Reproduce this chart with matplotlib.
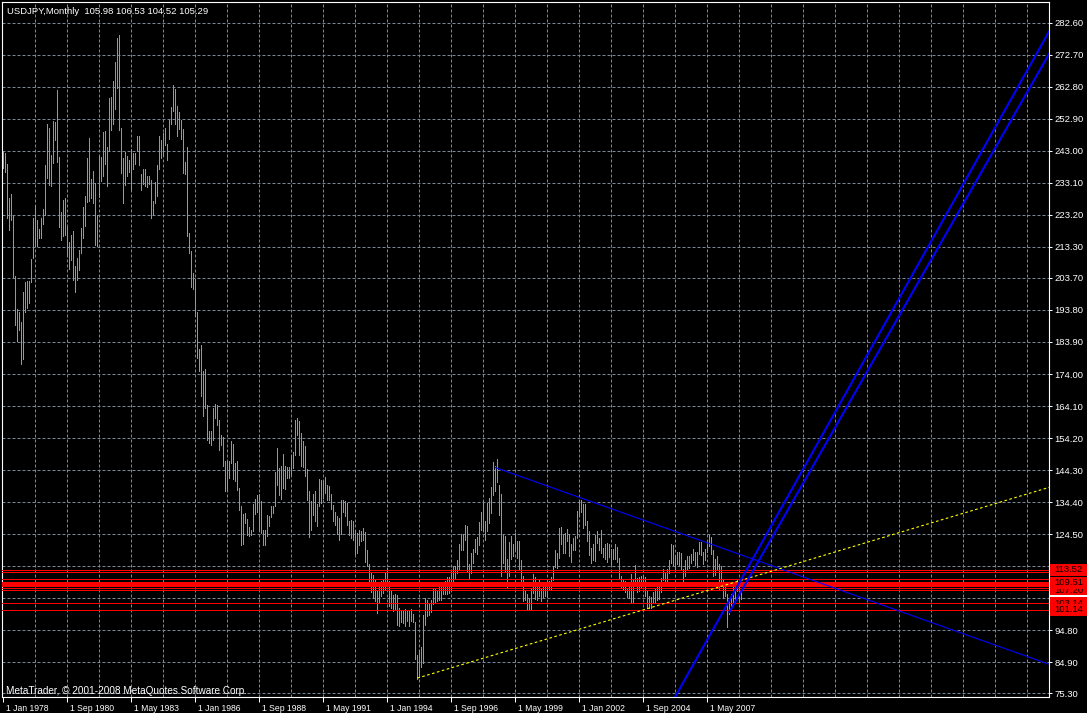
import matplotlib.pyplot as plt
from matplotlib import transforms
from matplotlib.patches import Rectangle

plt.rcParams['font.family'] = ['Liberation Sans', 'DejaVu Sans']

title = 'USDJPY,Monthly  105.98 106.53 104.52 105.29'
credit = 'MetaTrader, \u00a9 2001-2008 MetaQuotes Software Corp.'

# monthly bars, Jan 1978 .. Oct 2008 (one row per year)
highs = [
    242.9, 242.2, 238.8, 228.3, 229.5, 223.0, 204.2, 194.0, 193.1, 190.0, 199.5, 202.4,
    202.7, 202.7, 209.7, 222.1, 225.9, 221.6, 218.7, 222.1, 224.9, 238.5, 251.2, 250.0,
    241.6, 252.3, 252.0, 261.8, 241.0, 224.1, 227.8, 228.3, 219.4, 214.8, 216.9, 218.2,
    207.3, 210.0, 212.3, 219.0, 225.5, 229.0, 240.8, 246.9, 234.2, 236.8, 232.9, 223.3,
    241.3, 241.0, 248.8, 249.1, 244.1, 259.2, 259.5, 264.6, 270.5, 277.8, 278.8, 250.0,
    240.7, 242.6, 241.3, 240.1, 243.5, 242.2, 242.2, 247.6, 247.5, 235.7, 237.3, 237.3,
    235.2, 235.1, 234.0, 227.5, 233.3, 238.5, 247.5, 246.4, 248.4, 250.0, 245.0, 252.4,
    256.4, 263.4, 262.2, 256.9, 255.1, 252.4, 249.6, 239.4, 244.1, 217.5, 211.9, 205.1,
    203.5, 193.3, 181.6, 183.1, 174.9, 175.4, 164.3, 156.3, 156.5, 163.6, 164.6, 164.3,
    159.7, 155.0, 154.4, 147.2, 147.0, 147.0, 153.3, 152.5, 146.6, 147.0, 138.9, 133.3,
    130.8, 131.1, 129.3, 126.8, 125.9, 133.9, 135.5, 136.7, 137.0, 134.6, 125.7, 125.9,
    130.5, 130.0, 133.3, 133.1, 143.6, 151.0, 145.1, 145.7, 149.4, 145.5, 145.4, 145.4,
    149.1, 149.8, 159.7, 160.5, 159.4, 155.9, 153.2, 151.9, 144.5, 137.9, 134.6, 137.0,
    137.7, 133.9, 141.7, 141.1, 140.8, 142.3, 139.8, 139.5, 136.9, 133.6, 131.4, 130.2,
    129.5, 135.2, 135.2, 134.9, 134.1, 128.5, 128.8, 128.5, 125.7, 124.9, 125.7, 125.4,
    126.4, 125.3, 119.5, 115.4, 112.7, 112.0, 110.7, 107.3, 109.2, 110.1, 110.7, 112.6,
    114.1, 109.9, 106.8, 105.8, 106.1, 105.8, 101.7, 100.9, 100.6, 101.4, 101.1, 101.1,
    101.4, 99.9, 97.2, 87.2, 88.8, 89.6, 99.6, 104.8, 104.2, 103.0, 104.2, 107.5,
    107.6, 107.3, 109.4, 109.4, 109.2, 109.9, 111.3, 111.4, 112.5, 114.5, 114.8, 116.4,
    121.6, 124.5, 124.5, 127.2, 127.0, 115.4, 118.6, 120.0, 122.9, 123.5, 128.2, 131.3,
    134.7, 128.6, 134.2, 135.6, 139.0, 146.7, 145.5, 147.6, 139.8, 136.8, 124.3, 124.0,
    116.8, 122.1, 124.0, 121.6, 124.8, 122.5, 122.3, 116.4, 111.5, 107.0, 106.0, 104.4,
    107.4, 112.2, 111.2, 108.5, 110.4, 107.7, 109.5, 109.4, 108.4, 109.9, 111.3, 114.8,
    119.5, 118.6, 126.4, 126.8, 124.3, 125.0, 126.0, 124.6, 121.6, 123.4, 124.0, 131.8,
    135.0, 135.1, 133.9, 133.8, 128.5, 125.5, 120.2, 121.6, 124.3, 125.6, 123.2, 125.7,
    120.3, 121.4, 121.7, 121.6, 120.0, 120.0, 121.4, 120.6, 117.1, 111.6, 110.2, 110.0,
    107.8, 109.5, 112.1, 110.5, 114.9, 111.0, 111.4, 111.5, 111.6, 111.3, 106.9, 105.4,
    105.2, 106.7, 107.5, 108.7, 108.5, 111.0, 113.7, 112.9, 113.6, 116.4, 121.4, 121.0,
    117.9, 119.1, 119.1, 118.7, 113.7, 116.5, 117.8, 117.8, 118.3, 119.9, 118.9, 119.0,
    122.2, 122.2, 119.0, 120.0, 122.0, 124.1, 123.7, 119.6, 116.8, 117.9, 115.2, 114.7,
    110.2, 108.6, 106.0, 104.7, 106.0, 108.6, 108.6, 110.7, 109.4, 106.53,
]
lows = [
    237.7, 236.4, 222.1, 218.5, 221.6, 203.9, 189.1, 184.1, 187.5, 177.2, 178.5, 193.3,
    194.3, 196.1, 202.4, 210.0, 213.5, 213.5, 215.9, 216.2, 220.3, 223.3, 234.5, 232.3,
    232.1, 239.3, 246.3, 239.6, 219.4, 215.4, 216.6, 216.9, 210.4, 206.6, 209.2, 203.0,
    199.2, 203.2, 206.1, 211.3, 215.9, 219.7, 227.1, 227.4, 228.3, 226.8, 214.0, 213.5,
    228.6, 233.6, 235.2, 238.8, 232.1, 242.9, 249.4, 251.2, 255.8, 262.5, 249.3, 236.0,
    226.8, 232.3, 235.1, 236.4, 230.9, 237.3, 238.8, 242.9, 238.6, 230.9, 232.6, 232.0,
    231.9, 232.6, 222.3, 223.3, 226.8, 228.9, 237.3, 240.7, 241.4, 244.8, 240.1, 246.6,
    251.2, 255.3, 251.2, 247.6, 249.6, 246.6, 236.0, 235.7, 216.6, 211.3, 200.8, 200.2,
    191.9, 178.8, 174.9, 167.1, 160.9, 163.6, 153.7, 152.8, 152.0, 153.7, 160.5, 158.1,
    150.6, 152.2, 145.5, 137.7, 138.3, 142.0, 146.6, 141.6, 140.8, 138.0, 131.9, 121.2,
    121.6, 128.1, 124.3, 123.8, 124.3, 125.4, 130.8, 131.5, 125.4, 124.9, 121.2, 121.2,
    123.8, 126.9, 129.8, 131.1, 133.1, 139.8, 136.7, 135.5, 138.9, 138.6, 142.0, 142.0,
    142.9, 145.1, 149.1, 155.3, 149.1, 145.5, 145.4, 142.6, 135.2, 123.7, 125.9, 130.5,
    128.5, 127.1, 133.1, 134.2, 135.7, 137.2, 135.2, 135.2, 132.4, 128.5, 127.4, 124.7,
    122.6, 124.7, 131.5, 130.0, 127.2, 124.3, 123.3, 122.8, 118.5, 118.7, 121.2, 122.3,
    122.8, 115.8, 114.7, 109.2, 106.5, 104.8, 103.9, 100.2, 103.3, 105.5, 106.4, 107.6,
    109.2, 102.2, 101.8, 100.6, 100.9, 96.5, 96.2, 97.2, 97.0, 96.2, 97.5, 96.0,
    97.8, 97.2, 85.9, 79.7, 80.3, 83.4, 84.8, 96.5, 99.1, 99.6, 100.3, 103.0,
    103.4, 103.7, 104.2, 104.0, 106.1, 106.1, 106.1, 106.3, 107.5, 110.0, 110.8, 112.6,
    113.8, 119.5, 119.6, 122.6, 112.8, 110.6, 112.5, 115.5, 119.0, 118.5, 121.3, 125.9,
    125.5, 122.8, 125.5, 127.8, 131.0, 136.5, 137.9, 140.7, 130.5, 111.5, 115.5, 112.9,
    108.3, 111.6, 116.9, 117.7, 119.5, 117.1, 113.8, 109.7, 103.7, 104.0, 101.3, 101.2,
    101.4, 106.3, 104.3, 104.0, 105.3, 103.9, 105.2, 105.3, 105.0, 107.3, 107.5, 110.3,
    114.5, 114.1, 117.1, 121.4, 118.6, 118.8, 122.5, 117.8, 115.8, 119.6, 119.6, 123.4,
    130.0, 131.5, 126.4, 127.3, 122.5, 118.2, 115.5, 116.6, 116.1, 121.7, 119.6, 118.8,
    117.4, 116.7, 115.9, 117.5, 115.2, 116.7, 116.9, 115.9, 110.9, 107.9, 107.5, 106.7,
    105.2, 104.7, 103.4, 103.6, 108.4, 106.7, 106.8, 108.0, 108.4, 105.4, 101.8, 101.8,
    101.7, 103.1, 103.6, 104.2, 104.6, 106.6, 110.2, 108.5, 108.6, 112.6, 115.6, 115.0,
    113.4, 115.4, 115.0, 113.3, 108.9, 111.6, 113.6, 114.0, 115.5, 116.5, 115.0, 114.5,
    118.5, 118.0, 115.2, 116.6, 118.9, 120.9, 118.3, 111.6, 112.0, 113.8, 107.2, 109.7,
    104.9, 105.4, 95.8, 99.8, 102.0, 103.6, 103.8, 106.9, 103.5, 104.52,
]

y_labels = ['282.60', '272.70', '262.80', '252.90', '243.00', '233.10', '223.20',
            '213.30', '203.70', '193.80', '183.90', '174.00', '164.10', '154.20',
            '144.30', '134.40', '124.50', '114.60', '104.70', '94.80', '84.90', '75.30']
date_months = ['1978-01', '1980-09', '1983-05', '1986-01', '1988-09', '1991-05',
               '1994-01', '1996-09', '1999-05', '2002-01', '2004-09', '2007-05']
date_labels = ['1 Jan 1978', '1 Sep 1980', '1 May 1983', '1 Jan 1986', '1 Sep 1988',
               '1 May 1991', '1 Jan 1994', '1 Sep 1996', '1 May 1999', '1 Jan 2002',
               '1 Sep 2004', '1 May 2007']

# horizontal levels and their price tags (tags in drawing order)
red_levels = [113.52, 112.9, 110.6, 109.8, 109.51, 109.2, 108.9, 108.6, 107.8,
              107.20, 103.14, 101.14]
red_tags = ['107.20', '103.14', '113.52', '109.51', '101.14']
bid = 105.29

# trend lines: two anchor points each, drawn as rays to the right edge
trend_down = [('1998-07', 145.1), ('2007-06', 121.6)]
trend_up = [('1995-04', 80.0), ('2004-01', 99.6)]
channel_a = [('2006-01', 74.3), ('2008-01', 100.7)]
channel_b = [('2008-04', 100.4), ('2010-04', 126.3)]


def bar_index(s):
    y, m = map(int, s.split('-'))
    return (y - 1978) * 12 + (m - 1)


W, H = 1087, 713
fig = plt.figure(figsize=(W / 100, H / 100), dpi=100, facecolor='black')
ax = fig.add_axes([2 / W, 1 - 697 / H, 1047 / W, 695 / H], facecolor='black')
x_min, x_max = -0.65, 522.85
ax.set_xlim(x_min, x_max)
ax.set_ylim(74.16, 289.0)

grid = dict(color='#778899', lw=0.72, ls=(0, (3, 2)), zorder=0)
for s in y_labels:
    ax.axhline(float(s), **grid)
for m in range(16, 523, 16):
    ax.axvline(m, **grid)

x = list(range(len(highs)))
ax.vlines(x, lows, highs, colors='#30e030', linewidth=0.5, antialiased=False, zorder=2)

for lv in red_levels:
    ax.axhline(lv, color='red', lw=0.6, antialiased=False, zorder=3)


def ray(pts, **kw):
    x0, p0 = bar_index(pts[0][0]), pts[0][1]
    x1, p1 = bar_index(pts[1][0]), pts[1][1]
    k = (p1 - p0) / (x1 - x0)
    ax.plot([x0, x_max], [p0, p0 + k * (x_max - x0)], **kw)


ray(trend_down, color='#0000ff', lw=0.8, zorder=4)
ray(trend_up, color='#ffff00', lw=0.8, ls=(0, (2.4, 2.2)), zorder=4)
ray(channel_a, color='#0000ff', lw=1.5, zorder=4)
ray(channel_b, color='#0000ff', lw=1.5, zorder=4)

for sp in ax.spines.values():
    sp.set_color('white')
    sp.set_linewidth(0.8)

ax.yaxis.tick_right()
ax.set_yticks([float(s) for s in y_labels], y_labels)
ax.tick_params(axis='y', colors='white', length=2.5, width=0.72, pad=1.2, labelsize=6.8)
ax.set_xticks([bar_index(d) for d in date_months], date_labels)
ax.tick_params(axis='x', colors='white', length=3.6, width=0.72, pad=1.5, labelsize=6.2)
shift = transforms.ScaledTranslation(0.03, 0, fig.dpi_scale_trans)
for lab in ax.get_xticklabels():
    lab.set_horizontalalignment('left')
    lab.set_transform(lab.get_transform() + shift)

# price tags on the right scale
blend = transforms.blended_transform_factory(ax.transAxes, ax.transData)
px = 0.3091
tag_w = 38 / 1047
for i, t in enumerate(red_tags):
    p = float(t)
    ax.add_patch(Rectangle((1.0005, p - 6 * px), tag_w, 12 * px, transform=blend,
                           facecolor='red', edgecolor='none', clip_on=False, zorder=10 + i))
    ax.text(1.0 + 5 / 1047, p, t, transform=blend, color='black', fontsize=6.8,
            va='center', ha='left', clip_on=False, zorder=10.5 + i)
ax.add_patch(Rectangle((1.0005, bid - 1 * px), tag_w, 2 * px, transform=blend,
                       facecolor='white', edgecolor='none', clip_on=False, zorder=20))

fig.text(7 / W, 1 - 11 / H, title, color='white', fontsize=6.8, va='center', ha='left')
fig.text(5.5 / W, 1 - 691 / H, credit, color='white', fontsize=7.2, va='center', ha='left')

fig.savefig('out.png', dpi=100, facecolor='black')
